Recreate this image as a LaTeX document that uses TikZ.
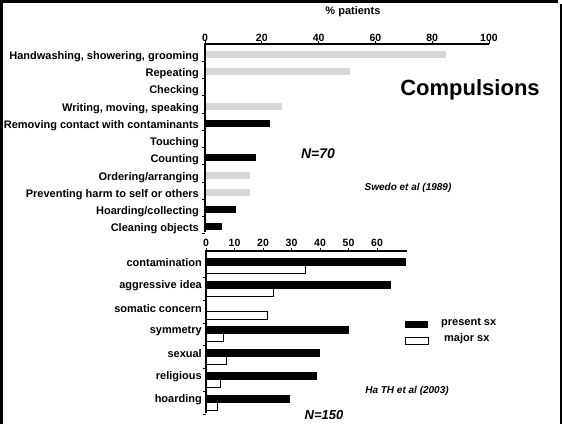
\documentclass[tikz,border=0pt]{standalone}
\usepackage{fontspec}
\setmainfont{Liberation Sans}
\usepackage{tikz}
\definecolor{ink}{RGB}{0, 0, 0}
\definecolor{faint}{RGB}{215, 215, 215}

\tikzset{
  catlabel/.style={anchor=east, inner sep=0pt, font=\bfseries\fontsize{11}{13}\selectfont},
  ticklabel/.style={inner sep=0pt, font=\bfseries\fontsize{10.5}{12}\selectfont},
  citation/.style={inner sep=0pt, font=\bfseries\itshape\fontsize{10}{12}\selectfont},
  samplesize/.style={inner sep=0pt, font=\bfseries\itshape\fontsize{14}{16}\selectfont},
  solidbar/.style={fill=ink},
  faintbar/.style={fill=faint},
  majorbar/.style={draw=ink, fill=white, line width=0.9},
  axisline/.style={draw=ink, line width=1.6}
}

\begin{document}
\begin{tikzpicture}[x=1pt, y=-1pt]
  \useasboundingbox (0, 0) rectangle (562, 424);

  % frame of the slide
  \draw[line width=3] (1.5, 424) -- (1.5, 1.5) -- (558, 1.5);
  \draw[line width=2] (560.5, 4) -- (560.5, 424);

  % Swedo et al: compulsions, % patients
  \begin{scope}[shift={(205, 44)}]
    \foreach \y/\txt in {13/{Handwashing, showering, grooming}, 30/Repeating, 47/Checking, 65/{Writing, moving, speaking}, 82/{Removing contact with contaminants}, 99/Touching, 116/Counting, 134/{Ordering/arranging}, 151/{Preventing harm to self or others}, 168/{Hoarding/collecting}, 185/{Cleaning objects}} {
      \node[catlabel] (comp\y) at (-6, \y) {\txt};
      \draw[line width=1] (-3, \y+4) -- (0, \y+4);
    }

    \foreach \y/\v in {13/85, 30/51, 65/27, 134/16, 151/16} {
      \fill[faintbar] (0, \y-6) rectangle ({2.84*\v}, \y+1);
    }
    \foreach \y/\v in {82/23, 116/18, 168/11, 185/6} {
      \fill[solidbar] (0, \y-6) rectangle ({2.84*\v}, \y+1);
    }

    \draw[axisline] (0, 188) -- (0, 0) -- (284, 0);
    \foreach \v in {0, 20, 40, 60, 80, 100} {
      \draw[line width=1] ({2.84*\v}, 0) -- ({2.84*\v}, -3);
      \node[ticklabel] (pct\v) at ({2.84*\v}, -6) {\v};
    }
    \node[catlabel, anchor=center] (pctname) at (148, -32) {\% patients};
  \end{scope}

  \node[inner sep=0pt, font=\bfseries\fontsize{22}{26}\selectfont] (title) at (470, 90) {Compulsions};
  \node[samplesize] (nswedo) at (318, 154) {N=70};
  \node[citation] (swedo) at (408, 188) {Swedo et al (1989)};

  % Ha TH et al: present and major symptoms
  \begin{scope}[shift={(206, 251)}]
    \foreach \s/\txt/\p/\m in {7/contamination/70/35, 30/{aggressive idea}/65/23.5, 53/{somatic concern}/0/21.5, 75/symmetry/50/6, 98/sexual/40/7, 121/religious/39/5, 144/hoarding/29.5/4} {
      \node[catlabel] (sym\s) at (-4, \s+5) {\txt};
      \fill[solidbar] (0, \s) rectangle ({2.85*\p}, \s+7.5);
      \draw[majorbar] (0, \s+7.5) rectangle ({2.85*\m}, \s+15);
      \draw[line width=1] (-3, \s+19) -- (0, \s+19);
    }

    \draw[axisline] (0, 162) -- (0, 0) -- (201, 0);
    \foreach \v in {0, 10, 20, 30, 40, 50, 60} {
      \draw[line width=1] ({2.85*\v}, 0) -- ({2.85*\v}, -3);
      \node[ticklabel] (cnt\v) at ({2.85*\v}, -8) {\v};
    }
  \end{scope}

  \fill[solidbar] (405, 321) rectangle (428, 328);
  \draw[majorbar] (405, 337) rectangle (428, 344);
  \node[catlabel, anchor=west] (present) at (441, 323) {present sx};
  \node[catlabel, anchor=west] (major) at (444, 339) {major sx};

  \node[citation] (ha) at (407, 391) {Ha TH et al (2003)};
  \node[samplesize, font=\bfseries\itshape\fontsize{13}{15}\selectfont] (nha) at (324, 415) {N=150};
\end{tikzpicture}
\end{document}
